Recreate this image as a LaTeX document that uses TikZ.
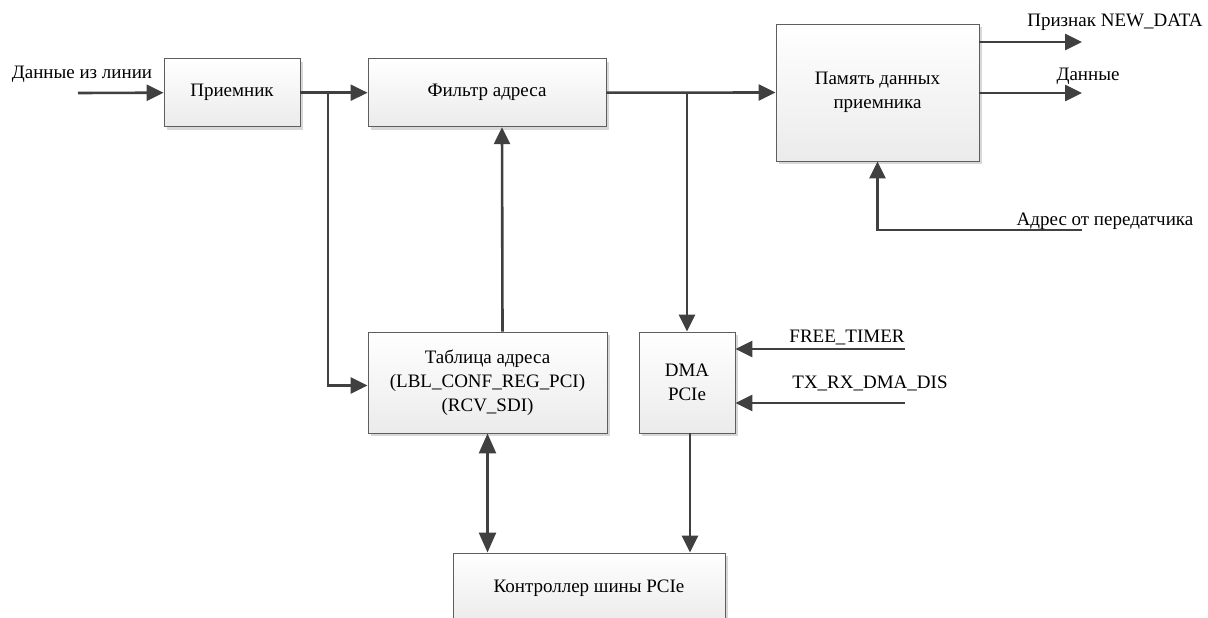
\documentclass[tikz,border=0pt]{standalone}
\usepackage{fontspec}
\setmainfont{Liberation Serif}
\usetikzlibrary{arrows.meta,shadows}

\definecolor{wire}{HTML}{404040}
\definecolor{boxline}{HTML}{5E5E5E}
\definecolor{boxshade}{HTML}{D8D8D8}
\definecolor{boxbottom}{HTML}{EBEBEB}

\tikzset{
  x=1pt, y=-1pt,
  block/.style={draw=boxline, line width=0.9pt, top color=white, bottom color=boxbottom,
    align=center, inner sep=0pt, font=\fontsize{19}{24}\selectfont,
    drop shadow={shadow xshift=3pt, shadow yshift=-3pt, fill=boxshade, opacity=1}},
  wireline/.style={draw=wire, line width=2.6pt},
  arr/.style={wireline, -{Triangle[length=17pt,width=16pt]}},
  darr/.style={wireline, {Triangle[length=20pt,width=17pt]}-{Triangle[length=20pt,width=17pt]}},
  label/.style={font=\fontsize{19}{24}\selectfont, inner sep=0pt, anchor=base},
}

\begin{document}
\begin{tikzpicture}
\path[use as bounding box, clip] (0,0) rectangle (1208,618);

% blocks
\node[block, minimum width=136pt, minimum height=68pt]  (rx)  at (232,92.7)  {Приемник};
\node[block, minimum width=238pt, minimum height=68pt]  (flt) at (487,92.7)  {Фильтр адреса};
\node[block, minimum width=203pt, minimum height=137pt] (mem) at (877.5,92.5) {Память данных\\приемника};
\node[block, minimum width=239pt, minimum height=101pt] (tbl) at (487.5,382.5) {Таблица адреса\\(LBL\_CONF\_REG\_PCI)\\(RCV\_SDI)};
\node[block, minimum width=96pt,  minimum height=101pt] (dma) at (687,382.5) {DMA\\PCIe};
\node[block, minimum width=272pt, minimum height=70pt]  (ctl) at (589,588)   {Контроллер шины PCIe};

% free ends and branch points
\coordinate (in) at (78,93);
\coordinate (j1) at (328,93);
\coordinate (j2) at (687,93);
\coordinate (o1) at (1082,42);
\coordinate (o2) at (1082,93);
\coordinate (a1) at (1082,230);
\coordinate (f1) at (905,349);
\coordinate (t1) at (905,403);

% connectors
\draw[arr] (in) -- (rx.west);
\draw[arr] (rx.east) -- (flt.west);
\draw[arr] (j1) |- ([yshift=-3pt]tbl.west);
\draw[arr] ([xshift=15pt]tbl.north) -- ([xshift=15pt]flt.south);
\draw[arr] (flt.east) -- (mem.west);
\draw[arr] (j2) -- (dma.north);
\draw[arr] (mem.east |- o1) -- (o1);
\draw[arr] (mem.east |- o2) -- (o2);
\draw[arr] (a1) -| (mem.south);
\draw[arr] (f1) -- (dma.east |- f1);
\draw[arr] (t1) -- (dma.east |- t1);
\draw[darr] (tbl.south) -- (tbl.south |- ctl.north);
\draw[arr] ([xshift=3pt]dma.south) -- ([xshift=3pt]dma.south |- ctl.north);

% signal labels
\node[label] at (82,79)    {Данные из линии};
\node[label] at (1115,27)  {Признак NEW\_DATA};
\node[label] at (1088,81)  {Данные};
\node[label] at (1105,225) {Адрес от передатчика};
\node[label] at (847,342)  {FREE\_TIMER};
\node[label] at (870,388)  {TX\_RX\_DMA\_DIS};
\end{tikzpicture}
\end{document}
